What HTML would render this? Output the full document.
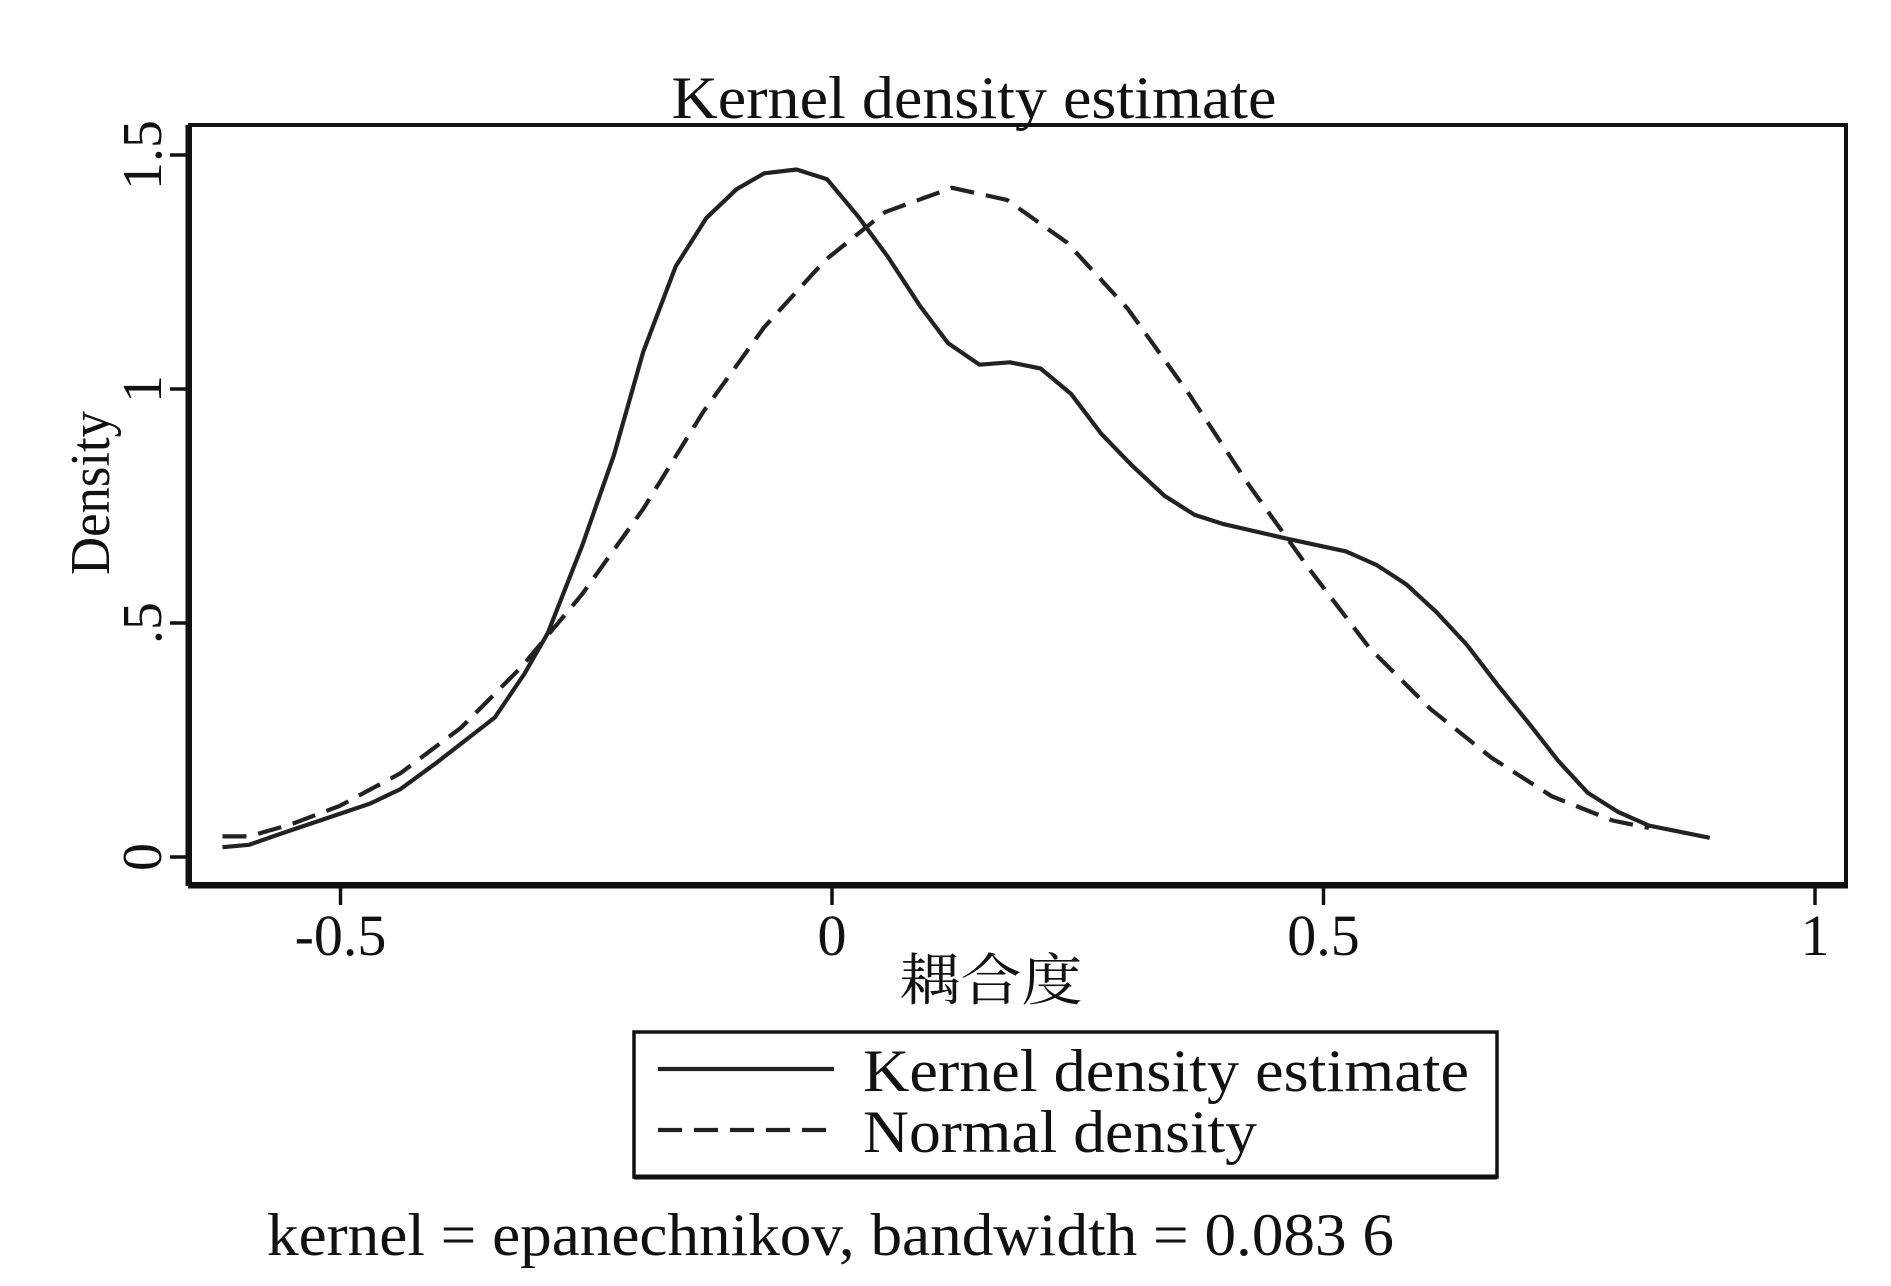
<!DOCTYPE html>
<html><head><meta charset="utf-8"><style>
html,body{margin:0;padding:0;background:#fff;}
svg{display:block;font-family:"Liberation Serif","Noto Serif CJK SC",serif;}
</style></head><body>
<svg id="chart" width="1891" height="1286" viewBox="0 0 1891 1286" xmlns="http://www.w3.org/2000/svg">
<rect width="1891" height="1286" fill="#fff"/>
<text x="974" y="118" font-size="60" text-anchor="middle" textLength="605" lengthAdjust="spacingAndGlyphs" fill="#111">Kernel density estimate</text>
<g id="axes"></g>
<g id="series"></g>
<rect x="190" y="125" width="1656" height="759" fill="none" stroke="#111" stroke-width="4"/>
<line x1="188" y1="125" x2="188" y2="886" stroke="#111" stroke-width="5"/>
<line x1="188" y1="886" x2="1848" y2="886" stroke="#111" stroke-width="5"/>
<text transform="translate(109,493) rotate(-90)" font-size="56" text-anchor="middle" textLength="164" lengthAdjust="spacingAndGlyphs" fill="#111">Density</text>
<text x="991" y="1000" font-size="56" text-anchor="middle" textLength="183" lengthAdjust="spacingAndGlyphs" fill="#111">耦合度</text>
<g>
<rect x="634" y="1032" width="863" height="145" fill="none" stroke="#111" stroke-width="3.5"/>
<line x1="634" y1="1177" x2="1497" y2="1177" stroke="#111" stroke-width="5"/>
<line x1="658" y1="1069" x2="834" y2="1069" stroke="#222" stroke-width="4.2"/>
<text x="863" y="1091" font-size="60" textLength="606" lengthAdjust="spacingAndGlyphs" fill="#111">Kernel density estimate</text>
<line x1="658" y1="1130" x2="834" y2="1130" stroke="#222" stroke-width="4.2" stroke-dasharray="24,12"/>
<text x="863" y="1152" font-size="60" textLength="394" lengthAdjust="spacingAndGlyphs" fill="#111">Normal density</text>
</g>
<text x="267" y="1255" font-size="60" textLength="1127" lengthAdjust="spacingAndGlyphs" fill="#111">kernel = epanechnikov, bandwidth = 0.083 6</text>
</svg>
<script>
const kdeX=[-0.620,-0.593,-0.562,-0.525,-0.470,-0.439,-0.402,-0.343,-0.313,-0.289,-0.254,-0.222,-0.192,-0.159,-0.128,-0.097,-0.069,-0.036,-0.005,0.026,0.057,0.089,0.118,0.150,0.181,0.212,0.243,0.274,0.305,0.338,0.369,0.397,0.461,0.523,0.554,0.584,0.615,0.646,0.677,0.708,0.739,0.769,0.800,0.831,0.862,0.893];
const kdeY=[0.021,0.026,0.049,0.075,0.114,0.145,0.202,0.298,0.391,0.479,0.666,0.858,1.080,1.262,1.365,1.427,1.461,1.469,1.448,1.370,1.282,1.179,1.098,1.052,1.057,1.044,0.990,0.904,0.837,0.772,0.731,0.712,0.681,0.653,0.624,0.583,0.523,0.453,0.368,0.288,0.205,0.137,0.096,0.067,0.054,0.041];
const normX=[-0.620,-0.593,-0.550,-0.501,-0.439,-0.377,-0.316,-0.254,-0.192,-0.131,-0.069,-0.007,0.054,0.122,0.178,0.239,0.301,0.363,0.424,0.486,0.547,0.609,0.671,0.732,0.794,0.831];
const normY=[0.044,0.044,0.070,0.109,0.179,0.277,0.406,0.562,0.744,0.951,1.132,1.275,1.378,1.430,1.404,1.313,1.171,0.990,0.795,0.614,0.446,0.316,0.212,0.130,0.078,0.062];
const xTicks=[-0.5,0,0.5,1];
const xTickLabels=["-0.5","0","0.5","1"];
const yTicks=[0,0.5,1,1.5];
const yTickLabels=["0",".5","1","1.5"];

const NS="http://www.w3.org/2000/svg";
function sx(v){return 832+v*983;}
function sy(v){return 857-v*468;}
const axes=document.getElementById('axes');
const series=document.getElementById('series');
function mk(tag,attrs,parent){const e=document.createElementNS(NS,tag);for(const k in attrs)e.setAttribute(k,attrs[k]);parent.appendChild(e);return e;}

xTicks.forEach((v,i)=>{
  const t=mk('line',{x1:sx(v),y1:886,x2:sx(v),y2:905,stroke:'#111','stroke-width':3.5},axes);
  
  
  const l=mk('text',{x:sx(v),y:955,'font-size':58,'text-anchor':'middle',fill:'#111'},axes);
  
  
  l.textContent=xTickLabels[i];
});
yTicks.forEach((v,i)=>{
  const t=mk('line',{x1:170,y1:sy(v),x2:190,y2:sy(v),stroke:'#111','stroke-width':3.5},axes);
  
  
  const l=mk('text',{transform:'translate(161,'+sy(v)+') rotate(-90)','font-size':56,'text-anchor':'middle',fill:'#111'},axes);
  
  
  l.textContent=yTickLabels[i];
});
function pts(xs,ys){return xs.map((x,i)=>sx(x).toFixed(1)+','+sy(ys[i]).toFixed(1)).join(' ');}
const n=mk('polyline',{points:pts(normX,normY),fill:'none',stroke:'#222','stroke-width':4.2,'stroke-dasharray':'24,12'},series);


const k=mk('polyline',{points:pts(kdeX,kdeY),fill:'none',stroke:'#222','stroke-width':4.2,'stroke-linejoin':'round'},series);


</script>
</body></html>
